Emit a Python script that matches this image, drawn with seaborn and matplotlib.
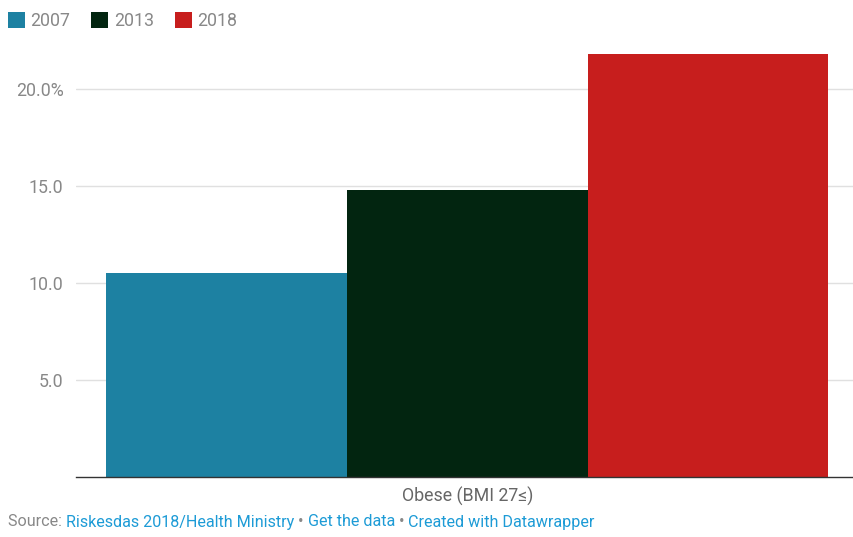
import matplotlib
matplotlib.use("Agg")
import matplotlib.pyplot as plt
import seaborn as sns
import pandas as pd
from matplotlib.patches import Patch

categories = ["Obese (BMI 27≤)"]
years = ["2007", "2013", "2018"]
values = [10.5, 14.8, 21.8]
colors = ["#1d81a2", "#022510", "#c71e1d"]
ytick_vals = [5, 10, 15, 20]
ytick_labels = ["5.0", "10.0", "15.0", "20.0%"]

sns.set_theme(style="white")
plt.rcParams["font.family"] = ["Roboto", "DejaVu Sans"]

df = pd.DataFrame({
    "category": categories * len(years),
    "year": years,
    "value": values,
})

W, H = 854, 537
fig = plt.figure(figsize=(W / 100, H / 100), dpi=100)
ax_left, ax_right = 76 / W, 1.0
ax_bottom = (H - 477) / H
ymax = 22.5
px_per_unit = (477 - 89) / 20.0
ax_top_px = 477 - ymax * px_per_unit
ax = fig.add_axes([ax_left, ax_bottom, ax_right - ax_left, (477 - ax_top_px) / H])

sns.barplot(data=df, x="category", y="value", hue="year",
            palette=dict(zip(years, colors)), width=0.928,
            saturation=1, linewidth=0, ax=ax, legend=False, zorder=3)

ax.set_xlim(-0.503, 0.497)
ax.set_ylim(0, ymax)
ax.set_yticks(ytick_vals)
ax.set_yticklabels(ytick_labels)
ax.set_xlabel("")
ax.set_ylabel("")
for s in ["top", "right", "left"]:
    ax.spines[s].set_visible(False)
ax.spines["bottom"].set_color("#333333")
ax.spines["bottom"].set_linewidth(1.0)
ax.spines["bottom"].set_zorder(4)
ax.yaxis.grid(True, color="#e0e0e0", linewidth=1.0, zorder=0)
ax.set_axisbelow(True)
ax.tick_params(axis="y", length=0, pad=9, labelsize=12.8, labelcolor="#888888")
ax.tick_params(axis="x", length=0, pad=7, labelsize=12.8, labelcolor="#666666")

handles = [Patch(facecolor=c, edgecolor="none", label=y) for y, c in zip(years, colors)]
fig.legend(handles=handles, loc="upper left", bbox_to_anchor=(8 / W, 1 - 12 / H),
           ncol=3, frameon=False, fontsize=12.8, labelcolor="#888888",
           handlelength=0.95, handleheight=0.95, handletextpad=0.3,
           columnspacing=1.2, borderpad=0, borderaxespad=0)

# Source line with coloured segments
parts = [("Source: ", "#888888"),
         ("Riskesdas 2018/Health Ministry", "#1d9bd6"),
         (" • ", "#888888"),
         ("Get the data", "#1d9bd6"),
         (" • ", "#888888"),
         ("Created with Datawrapper", "#1d9bd6")]
renderer = fig.canvas.get_renderer()
x = 8 / W
y = (H - 522) / H
for txt, col in parts:
    t = fig.text(x, y, txt, color=col, fontsize=11.6, va="center", ha="left")
    bb = t.get_window_extent(renderer=renderer)
    x = bb.x1 / W

fig.savefig("out.png", dpi=100)
